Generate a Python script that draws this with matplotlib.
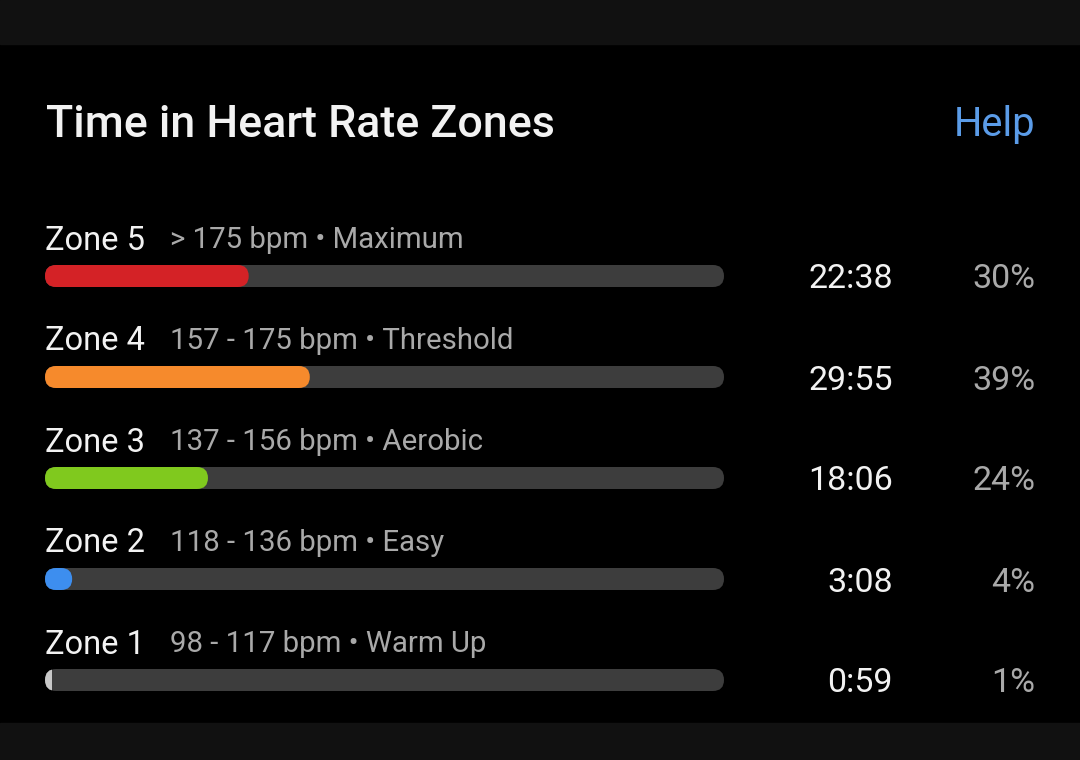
import matplotlib
matplotlib.use("Agg")
import matplotlib.pyplot as plt
from matplotlib.patches import FancyBboxPatch, Rectangle

zones = ["Zone 5", "Zone 4", "Zone 3", "Zone 2", "Zone 1"]
ranges = ["> 175 bpm", "157 - 175 bpm", "137 - 156 bpm", "118 - 136 bpm", "98 - 117 bpm"]
names = ["Maximum", "Threshold", "Aerobic", "Easy", "Warm Up"]
times = ["22:38", "29:55", "18:06", "3:08", "0:59"]
percents = [30, 39, 24, 4, 1]
colors = ["#d42226", "#f68a2c", "#80c91e", "#3d8eef", "#c8c8c8"]

W, H = 1080, 760
fig = plt.figure(figsize=(W / 100, H / 100), dpi=100)
fig.patch.set_facecolor("#000000")
ax = fig.add_axes([0, 0, 1, 1])
ax.set_xlim(0, W)
ax.set_ylim(H, 0)
ax.axis("off")
ax.set_facecolor("#000000")

FONT = "Roboto"
# bands
ax.add_patch(Rectangle((0, 0), W, 44, color="#111111", zorder=0))
ax.add_patch(Rectangle((0, 723), W, H - 723, color="#111111", zorder=0))

ax.text(46, 120.5, "Time in Heart Rate Zones", color="#f2f2f2", fontsize=32.3,
        fontfamily=FONT, fontweight="medium", va="center_baseline", ha="left")
ax.text(1035, 120.5, "Help", color="#5b9ce8", fontsize=28.7, fontfamily=FONT,
        va="center_baseline", ha="right")

x0, x1 = 45, 724
bh = 22
for i, (z, r, n, t, p, c) in enumerate(zip(zones, ranges, names, times, percents, colors)):
    yc = 276 + i * 101
    ax.text(45, yc - 39, z, color="#f2f2f2", fontsize=23.5, fontfamily=FONT,
            va="center_baseline", ha="left")
    ax.text(170, yc - 39, f"{r} \u2022 {n}", color="#a9a9a9", fontsize=21.2,
            fontfamily=FONT, va="center_baseline", ha="left")
    track = FancyBboxPatch((x0, yc - bh / 2), x1 - x0, bh,
                           boxstyle=f"round,pad=0,rounding_size={bh/2}",
                           fc="#3d3d3d", ec="none", zorder=1)
    ax.add_patch(track)
    fw = (x1 - x0) * p / 100.0
    pw = max(fw, bh)
    fill = FancyBboxPatch((x0, yc - bh / 2), pw, bh,
                          boxstyle=f"round,pad=0,rounding_size={bh/2}",
                          fc=c, ec="none", zorder=2)
    ax.add_patch(fill)
    if fw < bh:
        clip = Rectangle((x0 - 2, yc - bh), fw + 2, 2 * bh, transform=ax.transData)
        fill.set_clip_path(clip)
    ax.text(893, yc, t, color="#f2f2f2", fontsize=24.5, fontfamily=FONT,
            va="center_baseline", ha="right")
    ax.text(1035, yc, f"{p}%", color="#a9a9a9", fontsize=24.5, fontfamily=FONT,
            va="center_baseline", ha="right")

fig.savefig("out.png", dpi=100, facecolor=fig.get_facecolor())
